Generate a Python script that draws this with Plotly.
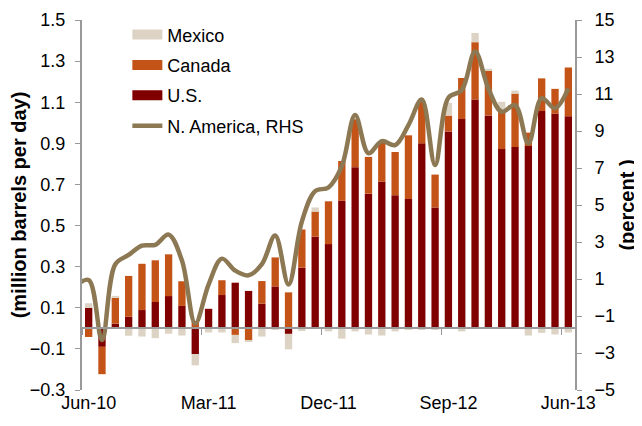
import pandas as pd
import plotly.graph_objects as go

# monthly categories, Jun-10 .. Jun-13
months = pd.date_range("2010-06-01", periods=37, freq="MS").strftime("%b-%y").tolist()
tick_labels = ["Jun-10", "Mar-11", "Dec-11", "Sep-12", "Jun-13"]

# y/y change, million barrels per day (left axis)
us = [0.10, -0.09, 0.023, 0.057, 0.089, 0.128, 0.157, 0.109, -0.125, 0.095,
      0.162, 0.222, 0.182, 0.12, 0.204, -0.027, 0.295, 0.446, 0.41, 0.62,
      0.784, 0.655, 0.713, 0.648, 0.629, 0.90, 0.588, 0.958, 1.018, 1.113,
      1.036, 0.872, 0.882, 0.887, 1.057, 1.045, 1.032]
canada = [-0.042, -0.133, 0.125, 0.198, 0.225, 0.203, 0.203, 0.12, 0.033, 0.0,
          0.072, -0.032, -0.06, 0.11, 0.141, 0.175, 0.186, 0.122, 0.208, 0.194,
          0.233, 0.179, 0.19, 0.21, 0.31, 0.203, 0.16, 0.077, 0.20, 0.279,
          0.22, 0.185, 0.26, 0.065, 0.159, 0.12, 0.237]
mexico = [0.022, 0.0, 0.01, -0.036, -0.04, -0.048, -0.026, -0.035, -0.055, -0.02,
          -0.02, -0.04, -0.005, -0.04, -0.008, -0.075, -0.013, 0.02, -0.015, -0.05,
          -0.015, -0.03, -0.035, -0.015, -0.006, -0.008, -0.006, 0.062, -0.015, 0.045,
          0.007, 0.045, 0.015, -0.035, -0.022, -0.03, -0.02]

# N. America growth, percent (right axis); the May-10 point only shows as the stub at the left edge
na_months = ["May-10"] + months
na_pct = [0.6, 0.95, -2.3, 1.8, 2.3, 2.8, 2.85, 3.4, 2.0, -1.4, 0.7,
          2.1, 1.45, 1.2, 1.8, 3.35, 0.7, 4.1, 5.75, 5.95, 7.1,
          9.86, 7.8, 8.45, 8.24, 9.32, 10.7, 7.16, 10.8, 11.2, 13.3,
          11.3, 10.04, 10.4, 8.33, 10.77, 10.23, 11.3]

FONT = "Liberation Sans, Arial, sans-serif"
GREY = "#999999"
C_US, C_CA, C_MX, C_NA = "#800000", "#C45317", "#DDD3C5", "#8C7853"

x = list(range(len(months)))
x_line = [i - 1 for i in range(len(na_months))]
label_pos = [months.index(m) for m in tick_labels]
xr = [-0.5, len(months) - 0.5]
y_left = [-0.3, 1.5]
y_right = [-5, 15]
zero_frac = (0 - y_left[0]) / (y_left[1] - y_left[0])

fig = go.Figure()
for name, vals, col in [("U.S.", us, C_US), ("Canada", canada, C_CA), ("Mexico", mexico, C_MX)]:
    fig.add_trace(go.Bar(x=x, y=vals, name=name, marker=dict(color=col, line_width=0),
                         showlegend=False, hovertext=months))

# legend keys drawn as wide blocks, like the original
for name, col in [("Mexico", C_MX), ("Canada", C_CA), ("U.S.", C_US)]:
    fig.add_trace(go.Scatter(x=[None], y=[None], mode="lines", name=name,
                             line=dict(color=col, width=10), legendgroup=name))

fig.add_trace(go.Scatter(x=x_line, y=na_pct, mode="lines", name="N. America, RHS",
                         line=dict(color=C_NA, width=4.5, shape="spline", smoothing=1),
                         xaxis="x2", yaxis="y2", legendgroup="na", hovertext=na_months))

tick_font = dict(family=FONT, size=18, color="#000000")
title_font = dict(family=FONT, size=20, weight="bold", color="#000000")

# the page body shifts the figure 8px right and down, so it is drawn 8px smaller
fig.update_layout(
    width=634, height=418,
    margin=dict(l=74, r=67, t=12, b=36, autoexpand=False),
    paper_bgcolor="white", plot_bgcolor="white",
    barmode="relative", bargap=0.45,
    font=dict(family=FONT, size=18, color="#000000"),
    showlegend=True,
    legend=dict(x=0.092, y=1.01, xanchor="left", yanchor="top",
                bgcolor="rgba(0,0,0,0)", font=dict(family=FONT, size=18),
                tracegroupgap=4, traceorder="grouped"),
    xaxis=dict(range=xr, tickvals=label_pos, ticktext=tick_labels,
               showline=False, ticks="", showgrid=False, zeroline=False,
               tickfont=tick_font, automargin=False),
    xaxis2=dict(range=xr, overlaying="x", anchor="free", position=zero_frac,
                tickvals=[p - 0.5 for p in label_pos],
                showticklabels=False, ticks="outside", ticklen=6, tickcolor=GREY,
                showline=True, linecolor=GREY, linewidth=2,
                showgrid=False, zeroline=False, automargin=False),
    yaxis=dict(range=y_left, tick0=y_left[0], dtick=0.2, tickformat=".1f",
               showline=True, linecolor=GREY, linewidth=2, ticks="outside",
               ticklen=5, tickcolor=GREY, showgrid=False, zeroline=False,
               tickfont=tick_font, ticklabelstandoff=6, automargin=False,
               title=dict(text="(million barrels per day)", font=title_font, standoff=0)),
    yaxis2=dict(range=y_right, tick0=y_right[0], dtick=2, overlaying="y", side="right",
                anchor="x", showline=True, linecolor=GREY, linewidth=2, ticks="outside",
                ticklen=5, tickcolor=GREY, showgrid=False, zeroline=False,
                tickfont=tick_font, ticklabelstandoff=9, automargin=False,
                title=dict(text="(percent )", font=title_font, standoff=6)),
)

fig.write_html("out.html")
